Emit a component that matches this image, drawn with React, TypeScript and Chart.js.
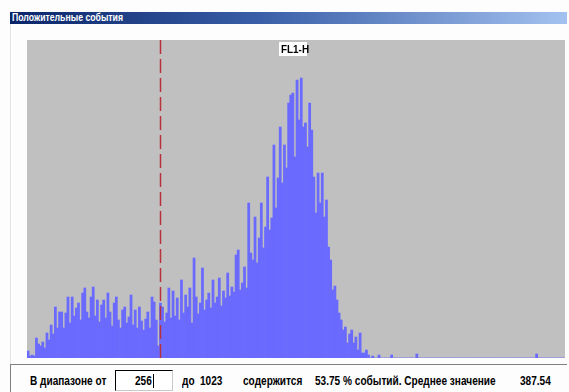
import React, { useEffect, useRef } from "react";
import { Chart, registerables } from "chart.js";

Chart.register(...registerables);

const windowTitle = "Положительные события";
const paramLabel = "FL1-H";
const channelCount = 1024;
const rangeFrom = 256;
const rangeTo = 1023;
const percentEvents = "53.75";
const meanValue = "387.54";
const yMax = 318;

// histogram counts, 256 bins of 4 channels each (0..1023)
const counts: number[] = [
  7, 2, 3, 2, 20, 14, 12, 16, 10, 25, 18, 33, 24, 51, 30, 46,
  46, 30, 45, 61, 35, 61, 42, 50, 55, 38, 65, 70, 46, 40, 61, 71,
  42, 58, 36, 53, 58, 40, 65, 46, 32, 55, 61, 38, 30, 48, 51, 35,
  41, 63, 33, 48, 30, 51, 37, 28, 39, 46, 30, 61, 56, 38, 12, 55,
  51, 36, 45, 70, 40, 67, 42, 60, 38, 78, 45, 63, 51, 70, 35, 100,
  61, 44, 55, 90, 48, 58, 65, 50, 78, 55, 61, 80, 52, 67, 60, 85,
  62, 71, 66, 103, 108, 68, 75, 91, 70, 155, 105, 98, 141, 95, 120, 155,
  110, 131, 181, 128, 140, 213, 150, 180, 231, 175, 213, 190, 255, 263, 265, 201,
  278, 238, 280, 231, 235, 211, 255, 228, 181, 145, 185, 155, 185, 141, 158, 111,
  98, 68, 72, 58, 45, 38, 28, 31, 15, 24, 28, 15, 21, 8, 25, 5,
  5, 8, 3, 0, 2, 0, 0, 3, 0, 0, 0, 0, 0, 3, 0, 0,
  0, 0, 0, 0, 0, 0, 0, 0, 0, 4, 0, 0, 0, 0, 0, 0,
  0, 0, 0, 0, 0, 0, 0, 0, 0, 0, 0, 0, 0, 0, 0, 0,
  0, 0, 0, 0, 0, 0, 0, 0, 0, 0, 0, 0, 0, 0, 0, 0,
  0, 0, 0, 0, 0, 0, 0, 0, 0, 0, 0, 0, 0, 0, 0, 0,
  0, 0, 4, 0, 0, 0, 0, 0, 0, 0, 0, 0, 0, 0, 0, 0,
];
const binSize = channelCount / 256;
const binLabels: string[] = counts.map((_, i) => String(i * binSize));

const bgPlugin = {
  id: "plotBg",
  beforeDraw(chart: any) {
    const { ctx, chartArea: a } = chart;
    ctx.save();
    ctx.fillStyle = "#c0c0c0";
    ctx.fillRect(a.left, a.top, a.right - a.left, a.bottom - a.top);
    ctx.restore();
  },
  afterDatasetsDraw(chart: any) {
    const { ctx, chartArea: a } = chart;
    const xs = chart.scales.x;
    const binW = (xs.right - xs.left) / counts.length;
    const px = Math.round(xs.getPixelForValue(rangeFrom / binSize) - binW / 2) - 1.5;
    ctx.save();
    ctx.strokeStyle = "#b8303c";
    ctx.lineWidth = 1.5;
    ctx.setLineDash([14, 5]);
    ctx.beginPath();
    ctx.moveTo(px, a.top);
    ctx.lineTo(px, a.bottom);
    ctx.stroke();
    ctx.restore();
  },
};

const font = '"Liberation Sans", Arial, sans-serif';

function Txt(props: { x: number; y: number; children: React.ReactNode; size?: number; sx?: number }) {
  return (
    <div
      style={{
        position: "absolute",
        left: props.x,
        top: props.y,
        fontFamily: font,
        fontWeight: "bold",
        fontSize: props.size ?? 12,
        lineHeight: "14px",
        whiteSpace: "nowrap",
        color: "#000",
        transform: `scaleX(${props.sx ?? 0.84})`,
        transformOrigin: "left center",
      }}
    >
      {props.children}
    </div>
  );
}

export default function App() {
  const ref = useRef<HTMLCanvasElement | null>(null);

  useEffect(() => {
    document.body.style.margin = "0";
    if (!ref.current) return;
    const chart = new Chart(ref.current, {
      type: "bar",
      data: {
        labels: binLabels,
        datasets: [
          {
            data: counts,
            backgroundColor: "#6a6aff",
            borderWidth: 0,
            barPercentage: 1,
            categoryPercentage: 1,
          },
        ],
      },
      options: {
        animation: false,
        responsive: false,
        maintainAspectRatio: false,
        layout: { padding: 0 },
        plugins: { legend: { display: false }, tooltip: { enabled: false }, title: { display: false } },
        scales: {
          x: { display: false, grid: { display: false } },
          y: { display: false, min: 0, max: yMax, grid: { display: false } },
        },
      },
      plugins: [bgPlugin],
    });
    return () => chart.destroy();
  }, []);

  return (
    <div style={{ position: "relative", width: 569, height: 392, background: "#fdfdfd", overflow: "hidden" }}>
      <div
        style={{
          position: "absolute",
          left: 10,
          top: 12,
          width: 557,
          height: 12,
          background: "linear-gradient(to right, #0a2468 0%, #3a5fa8 45%, #a4c2f0 100%)",
        }}
      />
      <div
        style={{
          position: "absolute",
          left: 12,
          top: 11,
          color: "#fff",
          fontFamily: font,
          fontWeight: "bold",
          fontSize: 10,
          lineHeight: "14px",
          whiteSpace: "nowrap",
          transform: "scaleX(0.87)",
          transformOrigin: "left center",
        }}
      >
        {windowTitle}
      </div>
      <div style={{ position: "absolute", left: 10, top: 24, width: 1, height: 368, background: "#e4e4e4" }} />
      <canvas
        ref={ref}
        width={538}
        height={318}
        style={{ position: "absolute", left: 27, top: 40, width: 538, height: 318 }}
      />
      <div
        style={{
          position: "absolute",
          left: 279,
          top: 42,
          width: 28,
          height: 14,
          background: "#fff",
        }}
      />
      <Txt x={281} y={42} size={11} sx={0.9}>{paramLabel}</Txt>
      <div style={{ position: "absolute", left: 10, top: 364, width: 557, height: 1, background: "#808080" }} />
      <div style={{ position: "absolute", left: 10, top: 364, width: 1, height: 28, background: "#808080" }} />
      <Txt x={30} y={374}>В диапазоне от</Txt>
      <div
        style={{
          position: "absolute",
          left: 115,
          top: 370,
          width: 56,
          height: 19,
          background: "#fff",
          borderTop: "1px solid #000",
          borderLeft: "1px solid #000",
          borderRight: "1px solid #c8c8c8",
          borderBottom: "1px solid #c8c8c8",
        }}
      />
      <Txt x={135} y={374}>{String(rangeFrom)}</Txt>
      <div style={{ position: "absolute", left: 153, top: 374, width: 1, height: 14, background: "#000" }} />
      <Txt x={182} y={374}>до</Txt>
      <Txt x={200} y={374}>{String(rangeTo)}</Txt>
      <Txt x={243} y={374}>содержится</Txt>
      <Txt x={315} y={374}>{percentEvents + " % событий. Среднее значение"}</Txt>
      <Txt x={520} y={374}>{meanValue}</Txt>
    </div>
  );
}
